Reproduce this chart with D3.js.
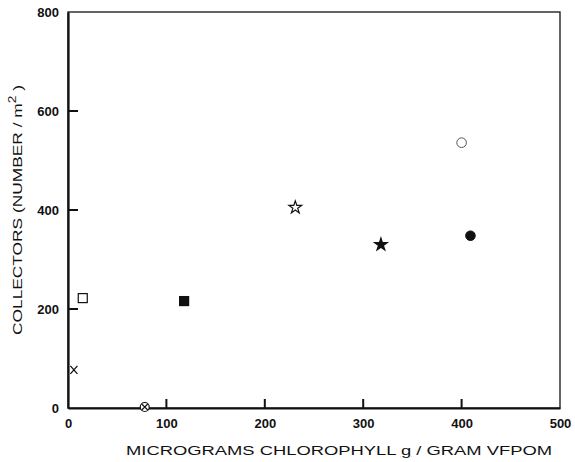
<!DOCTYPE html>
<html>
<head>
<meta charset="utf-8">
<script src="https://cdn.jsdelivr.net/npm/d3@7"></script>
<style>
  body { margin: 0; background: #fff; }
  text { font-family: "Liberation Sans", Arial, sans-serif; fill: #111; }
</style>
</head>
<body>
<svg id="chart" width="575" height="462"></svg>
<script>
// data
var chlorophyll = [6, 15, 78, 118, 231, 318, 400, 409];
var collectors = [77, 222, 2, 216, 405, 330, 536, 348];
var markers = ["cross", "openSquare", "circleX", "filledSquare", "openStar", "filledStar", "openCircle", "filledCircle"];
var xTicks = [0, 100, 200, 300, 400, 500];
var yTicks = [0, 200, 400, 600, 800];

var svg = d3.select("#chart");

var x = d3.scaleLinear().domain([0, 500]).range([68, 560]);
var y = d3.scaleLinear().domain([0, 800]).range([408, 12]);

// frame (thin top/right)
svg.append("rect")
    .attr("x", x(0)).attr("y", y(800))
    .attr("width", x(500) - x(0)).attr("height", y(0) - y(800))
    .style("fill", "none").style("stroke", "#111").style("stroke-width", 1.3);

// left axis labels
var yAxis = d3.axisLeft(y).tickValues(yTicks).tickSize(0).tickPadding(9);
var gy = svg.append("g").attr("transform", "translate(" + x(0) + ",0)").call(yAxis);
gy.select(".domain").style("stroke", "#111").style("stroke-width", 2.2);
gy.selectAll(".tick text")
    .style("font-size", "13px").style("font-weight", "bold");

// bottom axis labels
var xAxis = d3.axisBottom(x).tickValues(xTicks).tickSize(0).tickPadding(11);
var gx = svg.append("g").attr("transform", "translate(0," + y(0) + ")").call(xAxis);
gx.select(".domain").style("stroke", "#111").style("stroke-width", 2.2);
gx.selectAll(".tick text")
    .style("font-size", "13px").style("font-weight", "bold");

// inward tick marks
svg.selectAll(".ytick")
    .data(yTicks.filter(function(d) { return d > 0 && d < 800; }))
    .enter().append("line")
    .attr("class", "ytick")
    .attr("x1", x(0)).attr("x2", x(0) + 10)
    .attr("y1", function(d) { return y(d); }).attr("y2", function(d) { return y(d); })
    .style("stroke", "#111").style("stroke-width", 2);

svg.selectAll(".xtick")
    .data(xTicks.filter(function(d) { return d > 0 && d < 500; }))
    .enter().append("line")
    .attr("class", "xtick")
    .attr("x1", function(d) { return x(d); }).attr("x2", function(d) { return x(d); })
    .attr("y1", y(0)).attr("y2", y(0) - 9)
    .style("stroke", "#111").style("stroke-width", 2);

// axis titles
var xt = svg.append("text")
    .attr("x", 126).attr("y", 455)
    .attr("textLength", 426).attr("lengthAdjust", "spacingAndGlyphs")
    .style("font-size", "12.5px");
xt.append("tspan").text("MICROGRAMS  CHLOROPHYLL ");
xt.append("tspan").text("g").style("text-decoration", "underline");
xt.append("tspan").text(" / GRAM  VFPOM");

var yt = svg.append("text")
    .attr("transform", "translate(22,335) rotate(-90)")
    .attr("textLength", 250).attr("lengthAdjust", "spacingAndGlyphs")
    .style("font-size", "12.5px");
yt.append("tspan").text("COLLECTORS  (NUMBER / m");
yt.append("tspan").text("2").attr("dy", "-6").style("font-size", "10px");
yt.append("tspan").text(" )").attr("dy", "6");

// points
var pts = chlorophyll.map(function(v, i) { return { x: v, y: collectors[i], m: markers[i] }; });
var g = svg.append("g");
pts.forEach(function(p) {
    var cx = x(p.x), cy = y(p.y);
    var s = g.append("g").attr("transform", "translate(" + cx + "," + cy + ")");
    if (p.m === "cross") {
        s.append("path").attr("d", "M-3.5,-4L3.5,4M3.5,-4L-3.5,4")
            .style("stroke", "#111").style("stroke-width", 1.3);
    } else if (p.m === "openSquare" || p.m === "filledSquare") {
        s.append("rect").attr("x", -4.5).attr("y", -4.5).attr("width", 9).attr("height", 9)
            .style("fill", p.m === "filledSquare" ? "#111" : "#fff")
            .style("stroke", "#111").style("stroke-width", 1.2);
    } else if (p.m === "openCircle" || p.m === "filledCircle") {
        s.append("circle").attr("r", 4.8)
            .style("fill", p.m === "filledCircle" ? "#111" : "#fff")
            .style("stroke", p.m === "filledCircle" ? "#111" : "#555").style("stroke-width", 1);
    } else if (p.m === "circleX") {
        s.append("circle").attr("r", 4.5)
            .style("fill", "#fff").style("stroke", "#111").style("stroke-width", 1.2);
        s.append("path").attr("d", "M-3,-3L3,3M3,-3L-3,3")
            .style("stroke", "#111").style("stroke-width", 1.1);
    } else {
        s.append("path").attr("d", d3.symbol().type(d3.symbolStar).size(50)())
            .style("fill", p.m === "filledStar" ? "#111" : "#fff")
            .style("stroke", "#111").style("stroke-width", 1.2);
    }
});
</script>
</body>
</html>
